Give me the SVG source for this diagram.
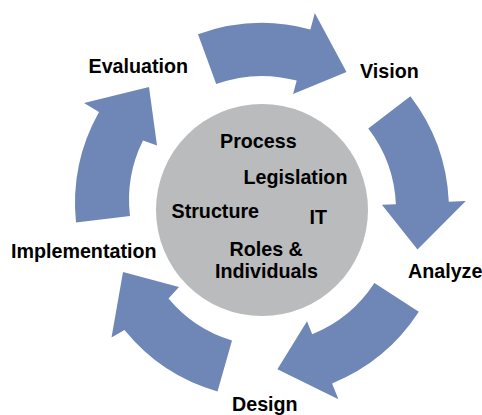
<svg xmlns="http://www.w3.org/2000/svg" width="482" height="415" viewBox="0 0 482 415">
  <style>
    .arrow { fill: #6E87B7; stroke: none; }
    .hub { fill: #B9BBBD; stroke: none; }
    .label { font-family: "Liberation Sans", Arial, Helvetica, sans-serif; font-weight: bold; font-size: 19.7px; fill: #000000; }
  </style>

  <!-- curved block arrows forming the cycle, all around centre (262,210) -->
  <g id="connectors">
    <path id="arrow-evaluation-vision" class="arrow" d="M198,34.3 A187,187 0 0 1 310.4,29.4 L314.8,13 L346.5,72 L293.1,94.1 L296.7,80.6 A134,134 0 0 0 216.2,84.1 Z"/>
    <path id="arrow-vision-analyze" class="arrow" d="M410.4,96.2 A187,187 0 0 1 448.8,201.8 L465.8,201.1 L417.5,249.5 L381.9,204.8 L395.9,204.2 A134,134 0 0 0 368.3,128.4 Z"/>
    <path id="arrow-analyze-design" class="arrow" d="M418.8,311.8 A187,187 0 0 1 332.1,383.4 L338.4,399.2 L277.4,369.2 L307,321.3 L312.2,334.2 A134,134 0 0 0 374.4,283 Z"/>
    <path id="arrow-design-implementation" class="arrow" d="M217.5,391.4 A185,185 0 0 1 124.5,330 L111.5,337.5 L123,272 L179,287 L168.5,298.5 A132,132 0 0 0 232,340.5 Z"/>
    <path id="arrow-implementation-evaluation" class="arrow" d="M76,222.5 A187,187 0 0 1 99,112 L84,103 L149,87 L157,145.5 L143,140.5 A134,134 0 0 0 130,216 Z"/>
  </g>

  <!-- central hub with its topics -->
  <g id="hub">
    <circle class="hub" cx="262" cy="210" r="106"/>
    <text class="label" x="220" y="148.3">Process</text>
    <text class="label" x="243.5" y="183.5">Legislation</text>
    <text class="label" x="171.5" y="217.5">Structure</text>
    <text class="label" x="309.5" y="224">IT</text>
    <text class="label" x="229.5" y="255.7">Roles &amp;</text>
    <text class="label" x="215" y="277.7">Individuals</text>
  </g>

  <!-- stage labels -->
  <g id="stage-evaluation">
    <text class="label" x="88.5" y="72.5">Evaluation</text>
  </g>
  <g id="stage-vision">
    <text class="label" x="360" y="77.7">Vision</text>
  </g>
  <g id="stage-analyze">
    <text class="label" x="408" y="277.7">Analyze</text>
  </g>
  <g id="stage-design">
    <text class="label" x="232" y="410.5">Design</text>
  </g>
  <g id="stage-implementation">
    <text class="label" x="11" y="258.3">Implementation</text>
  </g>
</svg>
